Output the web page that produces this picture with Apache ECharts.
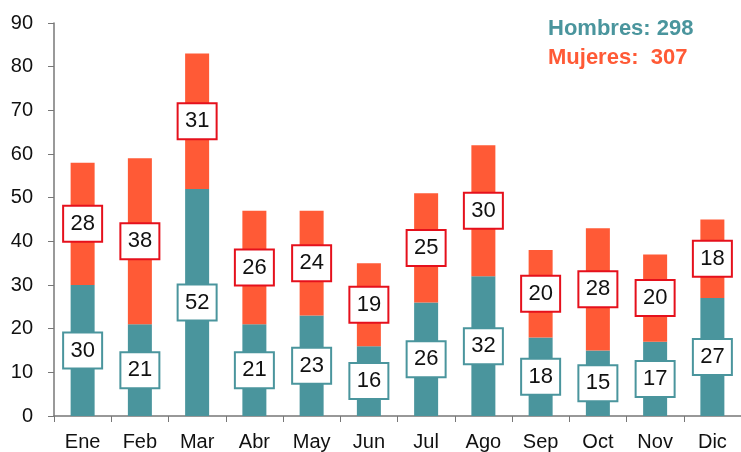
<!DOCTYPE html>
<html>
<head>
<meta charset="utf-8">
<script src="https://cdn.jsdelivr.net/npm/echarts@6/dist/echarts.min.js"></script>
<style>
html, body { margin: 0; padding: 0; background: #fff; }
#chart { width: 741px; height: 452px; }
</style>
</head>
<body>
<div id="chart"></div>
<script>
// meses y valores
var meses = ["Ene", "Feb", "Mar", "Abr", "May", "Jun", "Jul", "Ago", "Sep", "Oct", "Nov", "Dic"];
var hombres = [30, 21, 52, 21, 23, 16, 26, 32, 18, 15, 17, 27];
var mujeres = [28, 38, 31, 26, 24, 19, 25, 30, 20, 28, 20, 18];
var totalHombres = 298;
var totalMujeres = 307;

var teal = '#4a959d';
var naranja = '#ff5a36';
var fuente = '"Liberation Sans", Arial, sans-serif';

function etiqueta(borde) {
	return {
		show: true,
		position: 'inside',
		color: '#111',
		fontFamily: fuente,
		fontSize: 22,
		backgroundColor: '#fff',
		borderColor: borde,
		borderWidth: 2,
		width: 37,
		height: 34,
		lineHeight: 34,
		align: 'center',
		verticalAlign: 'middle'
	};
}

var myChart = echarts.init(document.getElementById('chart'));
var option = {
	animation: false,
	grid: {
		left: 54,
		right: -9,
		top: 23,
		bottom: 36
	},
	graphic: [{
		type: 'text',
		left: 548,
		top: 18,
		style: {
			text: 'Hombres: ' + totalHombres,
			fill: teal,
			font: 'bold 22px ' + fuente
		}
	}, {
		type: 'text',
		left: 548,
		top: 47,
		style: {
			text: 'Mujeres:  ' + totalMujeres,
			fill: naranja,
			font: 'bold 22px ' + fuente
		}
	}],
	xAxis: {
		type: 'category',
		data: meses,
		axisLine: { lineStyle: { color: '#777', width: 1.5 } },
		axisTick: { show: true, length: 6, lineStyle: { color: '#777' } },
		axisLabel: {
			color: '#111',
			fontFamily: fuente,
			fontSize: 20,
			margin: 16
		}
	},
	yAxis: {
		type: 'value',
		min: 0,
		max: 90,
		interval: 10,
		splitLine: { show: false },
		axisLine: { show: true, lineStyle: { color: '#777', width: 1.5 } },
		axisTick: { show: true, length: 6, lineStyle: { color: '#777' } },
		axisLabel: {
			color: '#111',
			fontFamily: fuente,
			fontSize: 20,
			margin: 21
		}
	},
	series: [{
		name: 'Hombres',
		type: 'bar',
		stack: 'total',
		data: hombres,
		barWidth: 24,
		itemStyle: { color: teal },
		label: etiqueta(teal)
	}, {
		name: 'Mujeres',
		type: 'bar',
		stack: 'total',
		data: mujeres,
		barWidth: 24,
		itemStyle: { color: naranja },
		label: etiqueta('#e5101c')
	}]
};
myChart.setOption(option);
</script>
</body>
</html>
